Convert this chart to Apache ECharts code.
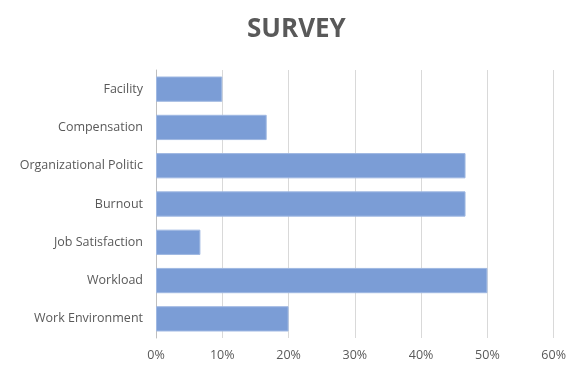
<!DOCTYPE html>
<html>
<head>
<meta charset="utf-8">
<script src="https://cdn.jsdelivr.net/npm/echarts@6/dist/echarts.min.js"></script>
<style>
  html, body { margin: 0; padding: 0; background: #fff; }
  #main { width: 569px; height: 367px; }
</style>
</head>
<body>
<div id="main"></div>
<script>
const categories = ['Facility', 'Compensation', 'Organizational Politic', 'Burnout', 'Job Satisfaction', 'Workload', 'Work Environment'];
const values = [10, 16.7, 46.7, 46.7, 6.7, 50, 20];

const myChart = echarts.init(document.getElementById('main'));
const option = {
    animation: false,
    title: {
        text: 'SURVEY',
        left: 242,
        top: 12,
        textStyle: {
            fontFamily: 'Open Sans',
            fontSize: 26,
            fontWeight: 'bold',
            color: '#595959'
        }
    },
    grid: {
        left: 156,
        right: 13,
        top: 70,
        bottom: 29
    },
    xAxis: {
        type: 'value',
        min: 0,
        max: 60,
        interval: 10,
        axisLabel: {
            formatter: v => v + '%',
            color: '#595959',
            fontFamily: 'Open Sans',
            fontSize: 12.5,
            margin: 11
        },
        axisLine: { show: false },
        axisTick: { show: false },
        splitLine: {
            lineStyle: { color: '#d9d9d9' }
        }
    },
    yAxis: {
        type: 'category',
        inverse: true,
        data: categories,
        axisLine: {
            show: true,
            lineStyle: { color: '#bfbfbf' }
        },
        axisTick: { show: false },
        axisLabel: {
            color: '#595959',
            fontFamily: 'Open Sans',
            fontSize: 12.5,
            margin: 13
        }
    },
    series: [
        {
            type: 'bar',
            data: values,
            barCategoryGap: '34%',
            itemStyle: {
                color: '#7b9dd6',
                borderColor: '#9fb8e2',
                borderWidth: 1
            }
        }
    ]
};
myChart.setOption(option);
</script>
</body>
</html>
